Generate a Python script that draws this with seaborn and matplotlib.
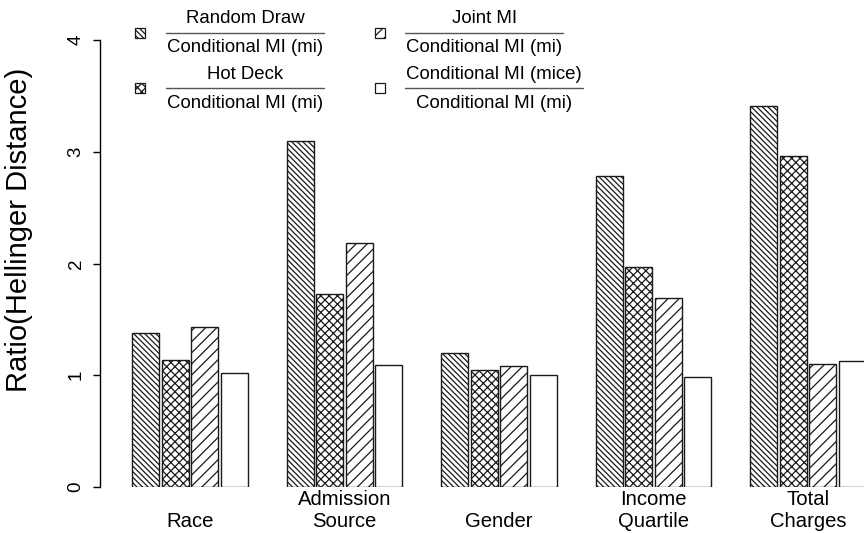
import numpy as np
import pandas as pd
import matplotlib
matplotlib.use("Agg")
import matplotlib.pyplot as plt
import seaborn as sns
from matplotlib.patches import Rectangle
from matplotlib.lines import Line2D

# ---------------- data ----------------
categories = ["Race", "Admission\nSource", "Gender", "Income\nQuartile", "Total\nCharges"]
methods = ["Random Draw", "Hot Deck", "Joint MI", "Conditional MI (mice)"]
denominator = "Conditional MI (mi)"
random_draw = [1.38, 3.10, 1.20, 2.78, 3.41]
hot_deck = [1.14, 1.73, 1.05, 1.97, 2.96]
joint_mi = [1.43, 2.18, 1.08, 1.69, 1.10]
cond_mice = [1.02, 1.09, 1.00, 0.98, 1.13]
yticks = [0, 1, 2, 3, 4]
ylabel = "Ratio(Hellinger Distance)"

series = [random_draw, hot_deck, joint_mi, cond_mice]
rows = []
for m, vals in zip(methods, series):
    for c, v in zip(categories, vals):
        rows.append({"category": c, "method": m, "value": v})
df = pd.DataFrame(rows)

hatches = ["\\" * 6, "xxxx", "///", ""]
edge = "#1a1a1a"

sns.set_theme(style="white")
plt.rcParams["font.family"] = ["Liberation Sans", "DejaVu Sans"]
plt.rcParams["hatch.linewidth"] = 0.9

W, H = 864, 533
fig = plt.figure(figsize=(W / 100, H / 100), dpi=100)
fig.patch.set_facecolor("white")
ax = fig.add_axes([100 / W, (H - 487) / H, 764 / W, 447 / H])
ax.set_facecolor("white")

sns.barplot(data=df, x="category", y="value", hue="method", order=categories,
            hue_order=methods, palette=["white"] * 4, saturation=1,
            edgecolor=edge, linewidth=1.0, width=0.764, gap=0.085,
            legend=False, errorbar=None, ax=ax)

for cont, h in zip(ax.containers, hatches):
    for bar in cont:
        bar.set_hatch(h)

ax.set_xlim(-0.5825, 4.362)
ax.set_ylim(0, 4)
for s in ["top", "right", "bottom"]:
    ax.spines[s].set_visible(False)
ax.spines["left"].set_bounds(0, 4)
ax.spines["left"].set_color("black")
ax.spines["left"].set_linewidth(1.0)

ax.set_yticks(yticks)
ax.set_yticklabels([str(t) for t in yticks])
ax.tick_params(axis="y", left=True, length=5, width=1, color="black",
               labelsize=13.5, pad=6, labelrotation=90, labelcolor="black")
for lab in ax.get_yticklabels():
    lab.set_va("center")
ax.tick_params(axis="x", length=0, labelsize=14.6, pad=31.5, labelcolor="black")
for lab in ax.get_xticklabels():
    lab.set_va("bottom")
ax.set_xlabel("")
ax.set_ylabel("")

fig.text(19 / W, 1 - 230 / H, ylabel, rotation=90, ha="center", va="center",
         fontsize=21, color="black")

# ---------------- legend (fractions) ----------------
def fy(y):
    return 1 - y / H

renderer = fig.canvas.get_renderer()
leg_fs = 13.4
layout = [
    # (method index, box center x, x0 of fraction, line y, num baseline, den baseline)
    (0, 140, 166, 32.7, 23.3, 51.7),
    (2, 380, 405, 32.7, 23.3, 51.7),
    (1, 140, 166, 88.0, 79.0, 108.0),
    (3, 380, 405, 88.0, 79.0, 108.0),
]
for mi, bx, x0, ly, nb, db in layout:
    rect = Rectangle(((bx - 5) / W, fy(ly + 5)), 10 / W, 10 / H,
                     transform=fig.transFigure, facecolor="white",
                     edgecolor=edge, linewidth=0.9, hatch=hatches[mi])
    fig.add_artist(rect)
    tn = fig.text(0, fy(nb), methods[mi], ha="center", va="baseline",
                  fontsize=leg_fs, color="black")
    td = fig.text(0, fy(db), denominator, ha="center", va="baseline",
                  fontsize=leg_fs, color="black")
    wn = tn.get_window_extent(renderer).width
    wd = td.get_window_extent(renderer).width
    wmax = max(wn, wd) + 2
    cx = x0 + wmax / 2
    tn.set_x(cx / W)
    td.set_x(cx / W)
    fig.add_artist(Line2D([x0 / W, (x0 + wmax) / W], [fy(ly), fy(ly)],
                          transform=fig.transFigure, color="#555555", lw=1.0))

fig.savefig("out.png", dpi=100, facecolor="white")
